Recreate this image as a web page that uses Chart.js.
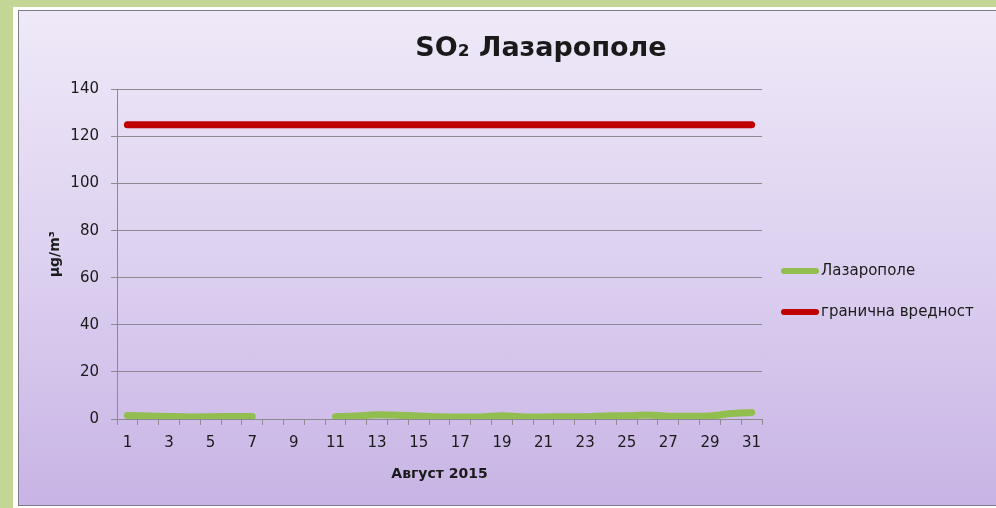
<!DOCTYPE html>
<html lang="mk">
  <head>
    <meta charset="utf-8" />
    <title>SO2 Лазарополе</title>
    <style>
      html, body { margin: 0; padding: 0; overflow: hidden; }
      body { width: 996px; height: 508px; background: #c3d696; position: relative; }
      #frame {
        position: absolute; left: 13px; top: 7px; width: 1060px; height: 510px;
        background: #ffffff;
      }
      #panel {
        position: absolute; left: 18px; top: 10px; width: 1046px; height: 496px;
        box-sizing: border-box; border: 1px solid #7f7a88;
        background: linear-gradient(to bottom, #efe9f8 0%, #ddd1f0 50%, #c8b4e5 100%);
      }
      #so2Chart { display: block; }
    </style>
    <script src="https://cdn.jsdelivr.net/npm/chart.js"></script>
  </head>
  <body>
    <div id="frame"></div>
    <div id="panel">
      <canvas id="so2Chart" width="1044" height="494"></canvas>
    </div>

    <script>
      // денови во август 2015
      const days = ['1','2','3','4','5','6','7','8','9','10','11','12','13','14','15','16',
                    '17','18','19','20','21','22','23','24','25','26','27','28','29','30','31'];
      // SO2 концентрации (µg/m3), 8-10 нема податоци
      const lazaropole = [1.5, 1.3, 1.1, 0.9, 1.0, 1.1, 1.1, null, null, null,
                          1.0, 1.3, 1.8, 1.6, 1.3, 1.0, 0.9, 0.9, 1.4, 0.9, 0.9,
                          1.0, 1.0, 1.3, 1.4, 1.7, 1.2, 1.2, 1.3, 2.3, 2.8];
      const limitValue = days.map(() => 125);
      const yTicks = [0, 20, 40, 60, 80, 100, 120, 140];

      const fontFamily = "'Comic Sans MS', 'DejaVu Sans', sans-serif";
      const textColor = '#1a1a1a';
      const gridColor = '#8c8a90';

      // легенда десно од графикот
      const sideLegend = {
        id: 'sideLegend',
        afterDraw(chart) {
          const ctx = chart.ctx;
          ctx.save();
          chart.data.datasets.forEach((ds, i) => {
            const y = 260 + i * 41;
            ctx.strokeStyle = ds.borderColor;
            ctx.lineWidth = 6;
            ctx.lineCap = 'round';
            ctx.beginPath();
            ctx.moveTo(765, y);
            ctx.lineTo(797, y);
            ctx.stroke();
            ctx.fillStyle = textColor;
            ctx.font = "15px " + fontFamily;
            ctx.textBaseline = 'middle';
            ctx.textAlign = 'left';
            ctx.fillText(ds.label, 802, y);
          });
          ctx.restore();
        }
      };

      const ctx = document.getElementById('so2Chart').getContext('2d');
      new Chart(ctx, {
        type: 'line',
        data: {
          labels: days,
          datasets: [
            {
              label: 'Лазарополе',
              data: lazaropole,
              borderColor: '#92bd4f',
              backgroundColor: '#92bd4f',
              borderWidth: 7,
              borderCapStyle: 'round',
              borderJoinStyle: 'round',
              tension: 0.3,
              pointRadius: 0,
              spanGaps: false
            },
            {
              label: 'гранична вредност',
              data: limitValue,
              borderColor: '#c00000',
              backgroundColor: '#c00000',
              borderWidth: 7,
              borderCapStyle: 'round',
              pointRadius: 0
            }
          ]
        },
        options: {
          responsive: false,
          animation: false,
          layout: { padding: 0 },
          plugins: {
            legend: { display: false },
            tooltip: { enabled: false },
            title: {
              display: true,
              text: 'SO₂ Лазарополе',
              color: textColor,
              font: { family: fontFamily, size: 27, weight: 'bold' },
              padding: { top: 22, bottom: 24 }
            }
          },
          scales: {
            x: {
              offset: true,
              grid: { display: true, drawOnChartArea: false, tickLength: 6, color: gridColor, offset: true },
              border: { display: true, color: gridColor },
              ticks: {
                autoSkip: false,
                maxRotation: 0,
                padding: 9,
                color: textColor,
                font: { family: fontFamily, size: 15 },
                callback: (v, i) => (i % 2 === 0 ? days[i] : '')
              },
              title: {
                display: true,
                text: 'Август 2015',
                color: textColor,
                font: { family: fontFamily, size: 14, weight: 'bold' },
                padding: { top: 0, bottom: 22 }
              },
              // простор десно за легендата
              afterFit(scale) { scale.height = 86; scale.paddingRight = 301; }
            },
            y: {
              min: 0,
              max: 140,
              afterBuildTicks(scale) { scale.ticks = yTicks.map(v => ({ value: v })); },
              grid: { color: gridColor, tickLength: 6 },
              border: { display: true, color: gridColor },
              ticks: {
                padding: 12,
                color: textColor,
                font: { family: fontFamily, size: 15 }
              },
              title: {
                display: true,
                text: 'µg/m³',
                color: textColor,
                font: { family: fontFamily, size: 14, weight: 'bold' },
                padding: { top: 28, bottom: 0 }
              },
              afterFit(scale) { scale.width = 98; }
            }
          }
        },
        plugins: [sideLegend]
      });
    </script>
  </body>
</html>
